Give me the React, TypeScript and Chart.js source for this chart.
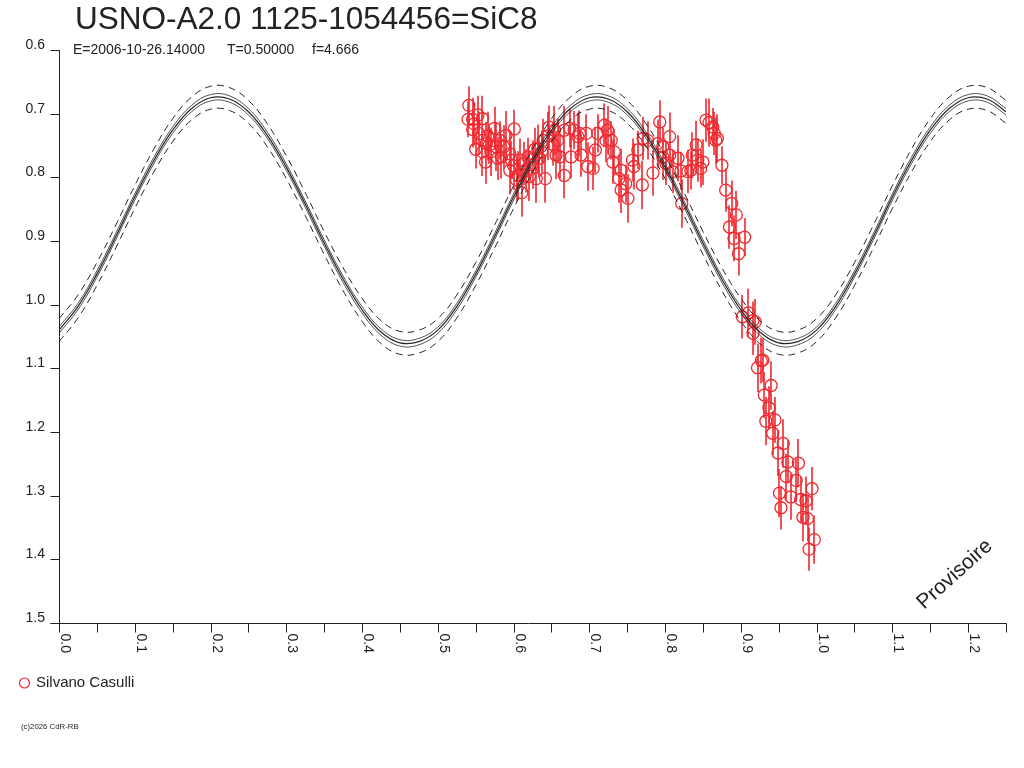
import { useEffect, useRef } from "react";
import { Chart, registerables } from "chart.js";

Chart.register(...registerables);

// ---------- texts ----------
const TITLE = "USNO-A2.0 1125-1054456=SiC8";
const SUBTITLE_PARTS = ["E=2006-10-26.14000", "T=0.50000", "f=4.666"];
const OBSERVER = "Silvano Casulli";
const FOOTER = "(c)2026 CdR-RB";
const WATERMARK = "Provisoire";

// ---------- axes ----------
const X_MIN = 0;
const X_MAX = 1.25;
const Y_MIN = 0.6;
const Y_MAX = 1.5;
const X_TICK_VALUES = [0, 0.1, 0.2, 0.3, 0.4, 0.5, 0.6, 0.7, 0.8, 0.9, 1.0, 1.1, 1.2];
const X_TICK_LABELS = ["0.0", "0.1", "0.2", "0.3", "0.4", "0.5", "0.6", "0.7", "0.8", "0.9", "1.0", "1.1", "1.2"];
const X_MINOR_VALUES = [0.05, 0.15, 0.25, 0.35, 0.45, 0.55, 0.65, 0.75, 0.85, 0.95, 1.05, 1.15, 1.25];
const Y_TICK_VALUES = [0.6, 0.7, 0.8, 0.9, 1.0, 1.1, 1.2, 1.3, 1.4, 1.5];
const Y_TICK_LABELS = ["0.6", "0.7", "0.8", "0.9", "1.0", "1.1", "1.2", "1.3", "1.4", "1.5"];

// ---------- model light curve ----------
const MODEL_PHASE = [
  0, 0.025, 0.05, 0.075, 0.1, 0.125, 0.15, 0.175, 0.2, 0.225,
  0.25, 0.275, 0.3, 0.325, 0.35, 0.375, 0.4, 0.425, 0.45, 0.475,
  0.5, 0.525, 0.55, 0.575, 0.6, 0.625, 0.65, 0.675, 0.7, 0.725,
  0.75, 0.775, 0.8, 0.825, 0.85, 0.875, 0.9, 0.925, 0.95, 0.975,
  1.0, 1.025, 1.05, 1.075, 1.1, 1.125, 1.15, 1.175, 1.2, 1.225, 1.25,
];
const MODEL_MAG = [
  1.040, 1.003, 0.952, 0.893, 0.831, 0.774, 0.726, 0.692, 0.675, 0.677,
  0.697, 0.734, 0.784, 0.842, 0.903, 0.960, 1.008, 1.043, 1.060, 1.058,
  1.040, 1.003, 0.952, 0.893, 0.831, 0.774, 0.726, 0.692, 0.675, 0.677,
  0.697, 0.734, 0.784, 0.842, 0.903, 0.960, 1.008, 1.043, 1.060, 1.058,
  1.040, 1.003, 0.952, 0.893, 0.831, 0.774, 0.726, 0.692, 0.675, 0.677, 0.697,
];
const INNER_BAND = 0.005;
const OUTER_BAND = 0.018;

// ---------- observations (Silvano Casulli) ----------
const OBS_PHASE = [
  0.541, 0.540, 0.546, 0.553, 0.559, 0.546, 0.554, 0.550, 0.559, 0.563,
  0.568, 0.575, 0.577, 0.582, 0.584, 0.590, 0.595, 0.601, 0.595, 0.608,
  0.606, 0.614, 0.619, 0.621, 0.628, 0.632, 0.634, 0.639, 0.642, 0.647,
  0.654, 0.658, 0.611, 0.604, 0.630, 0.597, 0.564, 0.570, 0.579, 0.559,
  0.548, 0.566, 0.587, 0.600, 0.616, 0.625, 0.637, 0.645, 0.652, 0.656,
  0.661, 0.667, 0.674, 0.667, 0.676, 0.680, 0.685, 0.689, 0.687, 0.696,
  0.698, 0.705, 0.708, 0.711, 0.720, 0.724, 0.722, 0.729, 0.733, 0.731, 0.739,
  0.742, 0.742, 0.748, 0.751, 0.757, 0.759, 0.764, 0.770, 0.771, 0.777,
  0.784, 0.790, 0.793, 0.797, 0.797, 0.801, 0.806, 0.806, 0.810, 0.817,
  0.821, 0.822, 0.830, 0.834, 0.836, 0.841, 0.843, 0.847, 0.850, 0.854,
  0.858, 0.863, 0.865, 0.867, 0.869, 0.875, 0.880, 0.888, 0.894, 0.885,
  0.891, 0.905, 0.897,
  0.902, 0.910, 0.916, 0.919, 0.916, 0.922, 0.927, 0.929, 0.940, 0.931,
  0.937, 0.933, 0.945, 0.942, 0.956, 0.949, 0.962, 0.976, 0.960, 0.973,
  0.951, 0.966, 0.953, 0.986, 0.979, 0.994, 0.982, 0.988, 0.990, 0.997,
];
const OBS_MAG = [
  0.687, 0.709, 0.709, 0.702, 0.708, 0.725, 0.731, 0.756, 0.760, 0.776,
  0.749, 0.723, 0.752, 0.742, 0.768, 0.734, 0.763, 0.724, 0.789, 0.773,
  0.797, 0.778, 0.768, 0.799, 0.756, 0.755, 0.770, 0.742, 0.802, 0.721,
  0.726, 0.742, 0.824, 0.804, 0.802, 0.773, 0.747, 0.760, 0.770, 0.742,
  0.716, 0.735, 0.752, 0.782, 0.790, 0.780, 0.760, 0.735, 0.748, 0.765,
  0.768, 0.726, 0.723, 0.797, 0.768, 0.726, 0.736, 0.765, 0.731, 0.731,
  0.783, 0.786, 0.757, 0.731, 0.718, 0.726, 0.742, 0.742, 0.760, 0.776, 0.802,
  0.789, 0.820, 0.810, 0.833, 0.773, 0.783, 0.757, 0.812, 0.739, 0.742,
  0.793, 0.747, 0.713, 0.752, 0.768, 0.778, 0.736, 0.765, 0.791, 0.770,
  0.790, 0.841, 0.791, 0.789, 0.765, 0.749, 0.773, 0.786, 0.776, 0.710,
  0.714, 0.721, 0.731, 0.742, 0.739, 0.781, 0.820, 0.841, 0.859, 0.878,
  0.896, 0.894, 0.920,
  1.019, 1.013, 1.025, 1.027, 1.045, 1.099, 1.088, 1.087, 1.127, 1.142,
  1.162, 1.183, 1.181, 1.202, 1.218, 1.233, 1.247, 1.249, 1.270, 1.276,
  1.296, 1.302, 1.319, 1.308, 1.306, 1.289, 1.334, 1.336, 1.384, 1.369,
];
const OBS_ERR = [
  0.030, 0.028, 0.034, 0.030, 0.036, 0.028, 0.034, 0.030, 0.038, 0.034,
  0.030, 0.034, 0.038, 0.030, 0.034, 0.038, 0.034, 0.030, 0.038, 0.034,
  0.038, 0.034, 0.030, 0.038, 0.034, 0.038, 0.030, 0.034, 0.038, 0.034,
  0.038, 0.034, 0.038, 0.034, 0.038, 0.030, 0.034, 0.038, 0.034, 0.030,
  0.034, 0.038, 0.034, 0.038, 0.034, 0.038, 0.034, 0.038, 0.034, 0.038,
  0.034, 0.038, 0.030, 0.036, 0.034, 0.030, 0.038, 0.034, 0.036, 0.030,
  0.038, 0.034, 0.036, 0.030, 0.034, 0.038, 0.034, 0.030, 0.036, 0.034, 0.038,
  0.034, 0.036, 0.030, 0.038, 0.034, 0.036, 0.030, 0.038, 0.034, 0.030,
  0.036, 0.038, 0.034, 0.030, 0.036, 0.034, 0.038, 0.030, 0.034, 0.036,
  0.030, 0.038, 0.034, 0.030, 0.036, 0.038, 0.034, 0.030, 0.036, 0.034,
  0.038, 0.030, 0.034, 0.036, 0.038, 0.030, 0.034, 0.036, 0.038, 0.034,
  0.036, 0.030, 0.034,
  0.034, 0.038, 0.030, 0.036, 0.034, 0.038, 0.036, 0.034, 0.038, 0.036,
  0.034, 0.038, 0.036, 0.034, 0.038, 0.036, 0.034, 0.038, 0.036, 0.034,
  0.038, 0.036, 0.034, 0.038, 0.036, 0.034, 0.038, 0.036, 0.034, 0.038,
];

// ---------- styles ----------
const RED = "#f0282f";
const INK = "#222222";
const CURVE = "#262626";
const FONT = '"Liberation Sans", Arial, Helvetica, sans-serif';

const decorPlugin = {
  id: "decor",
  beforeDatasetsDraw(chart: any) {
    const { ctx, chartArea, scales } = chart;
    const xs = scales.x;
    const ys = scales.y;
    ctx.save();
    ctx.beginPath();
    ctx.rect(chartArea.left, chartArea.top, chartArea.right - chartArea.left, chartArea.bottom - chartArea.top);
    ctx.clip();
    ctx.strokeStyle = RED;
    ctx.lineWidth = 1.6;
    ctx.beginPath();
    for (let i = 0; i < OBS_PHASE.length; i++) {
      const px = Math.round(xs.getPixelForValue(OBS_PHASE[i]));
      const y1 = ys.getPixelForValue(OBS_MAG[i] - OBS_ERR[i]);
      const y2 = ys.getPixelForValue(OBS_MAG[i] + OBS_ERR[i]);
      ctx.moveTo(px, y1);
      ctx.lineTo(px, y2);
    }
    ctx.stroke();
    ctx.restore();
  },
  afterDraw(chart: any) {
    const { ctx, chartArea, scales } = chart;
    const xs = scales.x;
    const ys = scales.y;
    const left = Math.round(chartArea.left) + 0.5;
    const bottom = Math.round(chartArea.bottom) + 0.5;
    const top = Math.round(chartArea.top);
    const right = Math.round(chartArea.right);
    ctx.save();
    ctx.strokeStyle = INK;
    ctx.fillStyle = INK;
    ctx.lineWidth = 1;

    // axis lines
    ctx.beginPath();
    ctx.moveTo(left, top);
    ctx.lineTo(left, bottom);
    ctx.moveTo(left - 9, bottom);
    ctx.lineTo(right + 0.5, bottom);
    ctx.stroke();

    // y ticks + labels
    ctx.font = `14px ${FONT}`;
    ctx.textAlign = "right";
    ctx.textBaseline = "alphabetic";
    ctx.beginPath();
    for (let i = 0; i < Y_TICK_VALUES.length; i++) {
      const py = Math.round(ys.getPixelForValue(Y_TICK_VALUES[i])) + 0.5;
      ctx.moveTo(left - 9, py);
      ctx.lineTo(left, py);
    }
    ctx.stroke();
    for (let i = 0; i < Y_TICK_VALUES.length; i++) {
      const py = Math.round(ys.getPixelForValue(Y_TICK_VALUES[i]));
      ctx.fillText(Y_TICK_LABELS[i], left - 14.5, py - 1.5);
    }

    // x ticks
    ctx.beginPath();
    const allX = X_TICK_VALUES.concat(X_MINOR_VALUES);
    for (let i = 0; i < allX.length; i++) {
      const px = Math.round(xs.getPixelForValue(allX[i])) + 0.5;
      ctx.moveTo(px, bottom);
      ctx.lineTo(px, bottom + 9);
    }
    ctx.stroke();

    // x labels, rotated clockwise
    ctx.textAlign = "left";
    ctx.textBaseline = "alphabetic";
    for (let i = 0; i < X_TICK_VALUES.length; i++) {
      const px = Math.round(xs.getPixelForValue(X_TICK_VALUES[i]));
      ctx.save();
      ctx.translate(px + 2, bottom + 10);
      ctx.rotate(Math.PI / 2);
      ctx.fillText(X_TICK_LABELS[i], 0, 0);
      ctx.restore();
    }

    // title + subtitle
    ctx.font = `31.5px ${FONT}`;
    ctx.fillText(TITLE, 75, 29);
    ctx.font = `14px ${FONT}`;
    const subX = [73, 227, 312];
    for (let i = 0; i < SUBTITLE_PARTS.length; i++) {
      ctx.fillText(SUBTITLE_PARTS[i], subX[i], 54);
    }

    // watermark
    ctx.save();
    ctx.font = `21px ${FONT}`;
    ctx.translate(924, 610);
    ctx.rotate((-42 * Math.PI) / 180);
    ctx.fillText(WATERMARK, 0, 0);
    ctx.restore();

    // legend
    ctx.strokeStyle = RED;
    ctx.lineWidth = 1.2;
    ctx.beginPath();
    ctx.arc(24.5, 683, 5, 0, Math.PI * 2);
    ctx.stroke();
    ctx.fillStyle = INK;
    ctx.font = `15px ${FONT}`;
    ctx.fillText(OBSERVER, 36, 687);

    // footer
    ctx.font = `7.8px ${FONT}`;
    ctx.fillText(FOOTER, 21, 728.5);

    ctx.restore();
  },
};

export default function App() {
  const canvasRef = useRef<HTMLCanvasElement | null>(null);

  useEffect(() => {
    const canvas = canvasRef.current;
    if (!canvas) return;
    const model = MODEL_PHASE.map((p, i) => ({ x: p, y: MODEL_MAG[i] }));
    const band = (d: number) => MODEL_PHASE.map((p, i) => ({ x: p, y: MODEL_MAG[i] + d }));
    const obs = OBS_PHASE.map((p, i) => ({ x: p, y: OBS_MAG[i] }));

    const lineBase = {
      showLine: true,
      pointRadius: 0,
      pointHoverRadius: 0,
      borderColor: CURVE,
      backgroundColor: CURVE,
      fill: false,
      tension: 0.4,
    };

    const chart = new Chart(canvas, {
      type: "scatter",
      data: {
        datasets: [
          { ...lineBase, label: "model", data: model, borderWidth: 1.2 },
          { ...lineBase, label: "inner+", data: band(INNER_BAND), borderWidth: 0.8 },
          { ...lineBase, label: "inner-", data: band(-INNER_BAND), borderWidth: 0.8 },
          { ...lineBase, label: "outer+", data: band(OUTER_BAND), borderWidth: 1, borderDash: [7, 5] },
          { ...lineBase, label: "outer-", data: band(-OUTER_BAND), borderWidth: 1, borderDash: [7, 5] },
          {
            label: OBSERVER,
            data: obs,
            showLine: false,
            pointStyle: "circle",
            pointRadius: 6,
            pointHoverRadius: 6,
            pointBorderWidth: 1.3,
            pointBorderColor: RED,
            pointBackgroundColor: "rgba(0,0,0,0)",
            borderColor: RED,
            backgroundColor: "rgba(0,0,0,0)",
          },
        ],
      },
      options: {
        animation: false,
        responsive: false,
        maintainAspectRatio: false,
        events: [],
        layout: { padding: { left: 59, right: 18, top: 50, bottom: 145 } },
        scales: {
          x: { type: "linear", min: X_MIN, max: X_MAX, display: false },
          y: { type: "linear", min: Y_MIN, max: Y_MAX, reverse: true, display: false },
        },
        plugins: {
          legend: { display: false },
          tooltip: { enabled: false },
          title: { display: false },
        },
      },
      plugins: [decorPlugin],
    });
    return () => chart.destroy();
  }, []);

  return (
    <div style={{ position: "absolute", left: 0, top: 0, width: 1024, height: 768, background: "#fff" }}>
      <canvas ref={canvasRef} width={1024} height={768} style={{ display: "block", width: 1024, height: 768 }} />
    </div>
  );
}
